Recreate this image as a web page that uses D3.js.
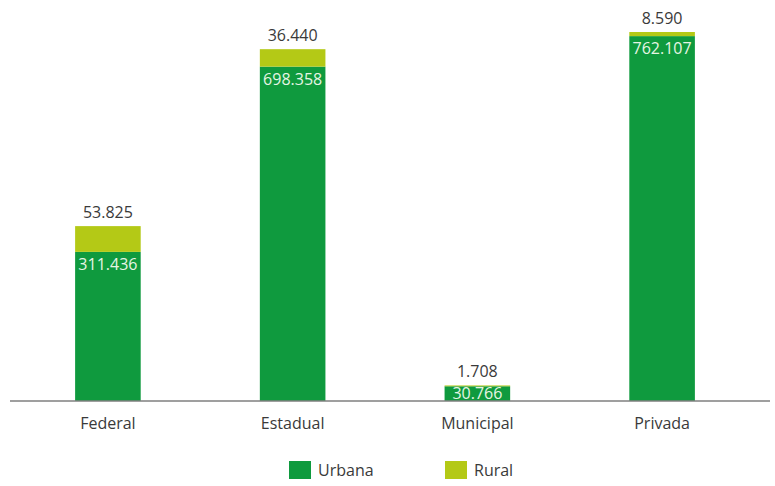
<!DOCTYPE html>
<html>
<head>
<meta charset="utf-8">
<script src="https://cdn.jsdelivr.net/npm/d3@7"></script>
<style>
  html, body { margin: 0; padding: 0; background: #fff; }
  svg { display: block; font-family: "Open Sans", "Noto Sans", sans-serif; }
</style>
</head>
<body>
<svg id="chart" width="775" height="486"></svg>
<script>
// Enrollments by administrative network, split into urban and rural
const categories = ["Federal", "Estadual", "Municipal", "Privada"];
const urbana = [311436, 698358, 30766, 762107];
const rural = [53825, 36440, 1708, 8590];
const seriesNames = ["Urbana", "Rural"];
const seriesColors = ["#0f9a3e", "#b4c916"];

const fmt = v => d3.format(",")(v).replace(/,/g, ".");

const svg = d3.select("#chart");
const baseY = 401;

const rows = categories.map((c, i) => ({ cat: c, Urbana: urbana[i], Rural: rural[i] }));
const stacked = d3.stack().keys(seriesNames)(rows);

const x = d3.scaleBand()
  .domain(categories)
  .range([16, 754])
  .paddingInner(0.645)
  .paddingOuter(0.32);

const y = d3.scaleLinear()
  .domain([0, 770697])
  .range([baseY, 32]);

// stacked bars
svg.append("g").selectAll("g")
  .data(stacked)
  .join("g")
  .attr("fill", (d, i) => seriesColors[i])
  .selectAll("rect")
  .data(d => d)
  .join("rect")
  .attr("x", d => x(d.data.cat))
  .attr("width", x.bandwidth())
  .attr("y", d => y(d[1]))
  .attr("height", d => y(d[0]) - y(d[1]));

// baseline axis
const axis = svg.append("g")
  .attr("transform", `translate(0,${baseY})`)
  .call(d3.axisBottom(x).tickSize(0).tickPadding(17));
axis.select(".domain").remove();
axis.append("line")
  .attr("x1", 10).attr("x2", 770)
  .attr("stroke", "#7f7f7f").attr("stroke-width", 1.5);
axis.selectAll(".tick text")
  .attr("font-size", 16)
  .attr("fill", "#3a3a3a")
  .attr("font-family", "'Open Sans', sans-serif");

// urban value labels inside the top of each urban segment
svg.append("g").selectAll("text")
  .data(stacked[0])
  .join("text")
  .attr("x", d => x(d.data.cat) + x.bandwidth() / 2)
  .attr("y", d => Math.min(y(d[1]) + 18, baseY - 2))
  .attr("text-anchor", "middle")
  .attr("font-size", 16)
  .attr("fill", "#e6f5e4")
  .text(d => fmt(d.data.Urbana));

// rural value labels above each bar
svg.append("g").selectAll("text")
  .data(stacked[1])
  .join("text")
  .attr("x", d => x(d.data.cat) + x.bandwidth() / 2)
  .attr("y", d => y(d[1]) - 8)
  .attr("text-anchor", "middle")
  .attr("font-size", 16)
  .attr("fill", "#3a3a3a")
  .text(d => fmt(d.data.Rural));

// legend
const legend = svg.append("g").attr("transform", "translate(0,461)");
const legendX = [289, 445];
seriesNames.forEach((name, i) => {
  const g = legend.append("g").attr("transform", `translate(${legendX[i]},0)`);
  g.append("rect").attr("width", 22).attr("height", 18).attr("fill", seriesColors[i]);
  g.append("text")
    .attr("x", 29).attr("y", 15)
    .attr("font-size", 16)
    .attr("fill", "#3a3a3a")
    .text(name);
});
</script>
</body>
</html>
